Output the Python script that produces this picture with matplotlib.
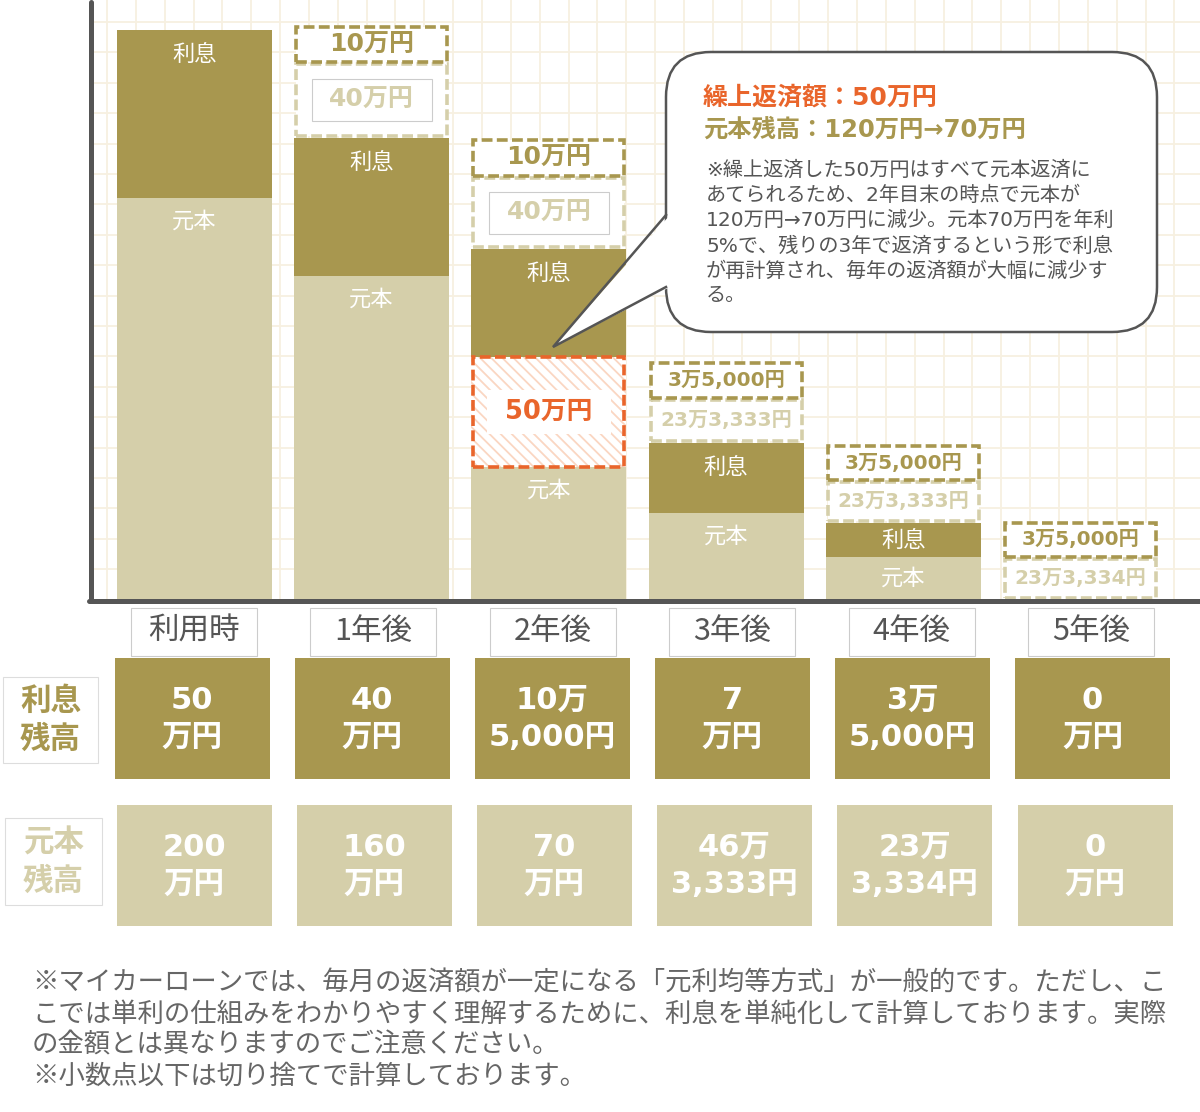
import numpy as np
import matplotlib
matplotlib.use("Agg")
import matplotlib.pyplot as plt
from matplotlib.patches import Rectangle, FancyBboxPatch, Polygon

plt.rcParams['font.family'] = ['Noto Sans CJK JP', 'DejaVu Sans']
plt.rcParams['hatch.linewidth'] = 1.3
NUM = ['DejaVu Sans', 'Noto Sans CJK JP']   # wide digits like the original

OLIVE = "#a8974f"
BEIGE = "#d5cfaa"
ORANGE = "#e9652b"
GRAY = "#555555"
GRID = "#f7f0e1"

# categories
periods = ["利用時", "1年後", "2年後", "3年後", "4年後", "5年後"]

# segment heights as drawn in the picture (not to scale in the original)
principal_h = [402, 324, 133, 87, 43, 0]
prepay_h = [0, 0, 110, 0, 0, 0]
interest_h = [168, 138, 108, 70, 34, 0]
paid_principal_h = [0, 72, 69, 41, 39, 39]
paid_interest_h = [0, 35, 36, 35, 34, 34]

paid_principal_lbl = ["", "40万円", "40万円", "23万3,333円", "23万3,333円", "23万3,334円"]
paid_interest_lbl = ["", "10万円", "10万円", "3万5,000円", "3万5,000円", "3万5,000円"]
prepay_lbl = ["", "", "50万円", "", "", ""]

interest_bal = ["50\n万円", "40\n万円", "10万\n5,000円", "7\n万円", "3万\n5,000円", "0\n万円"]
principal_bal = ["200\n万円", "160\n万円", "70\n万円", "46万\n3,333円", "23万\n3,334円", "0\n万円"]

callout_head = ["繰上返済額：50万円", "元本残高：120万円→70万円"]
callout_body = [
    "※繰上返済した50万円はすべて元本返済に",
    "あてられるため、2年目末の時点で元本が",
    "120万円→70万円に減少。元本70万円を年利",
    "5%で、残りの3年で返済するという形で利息",
    "が再計算され、毎年の返済額が大幅に減少す",
    "る。",
]
footnote = [
    "※マイカーローンでは、毎月の返済額が一定になる「元利均等方式」が一般的です。ただし、こ",
    "こでは単利の仕組みをわかりやすく理解するために、利息を単純化して計算しております。実際",
    "の金額とは異なりますのでご注意ください。",
    "※小数点以下は切り捨てで計算しております。",
]

W, H = 1200, 1112
fig = plt.figure(figsize=(W / 100, H / 100), dpi=100)

# background: grid paper
bg = fig.add_axes([0, 0, 1, 1])
bg.set_xlim(0, W)
bg.set_ylim(H, 0)
bg.axis("off")
for gx in np.arange(107, W, 28.85):
    bg.plot([gx, gx], [0, 600], color=GRID, lw=1.3)
for gy in np.arange(22, 600, 30.4):
    bg.plot([91, W], [gy, gy], color=GRID, lw=1.3)

# bar chart
ax = fig.add_axes([91 / W, (H - 600) / H, (W - 91) / W, 600 / H])
ax.set_xlim(91, W)
ax.set_ylim(0, 600)
ax.axis("off")
ax.patch.set_alpha(0)

x = 194.5 + 177.2 * np.arange(len(periods))
bw = 155
segs = [np.array(s, float) for s in
        (principal_h, prepay_h, interest_h, paid_principal_h, paid_interest_h)]
gaps = [0, 0, 0, 2, 2]
bottoms = []
cur = np.zeros(len(periods))
for s, g in zip(segs, gaps):
    start = cur + g
    bottoms.append(start)
    cur = np.where(s > 0, start + s, cur)

pr, pp, it, ppr, pit = segs
b_pr, b_pp, b_it, b_ppr, b_pit = bottoms
dash = (0, (3, 1.2))

ax.bar(x, pr, bw, bottom=b_pr, color=BEIGE, lw=0)
ax.bar(x, it, bw, bottom=b_it, color=OLIVE, lw=0)

m = pp > 0
ax.bar(x[m], pp[m], bw, bottom=b_pp[m], color="white", edgecolor="#fad6c2",
       hatch="\\\\\\", lw=0)
ax.bar(x[m], pp[m], bw - 4, bottom=b_pp[m], fill=False, edgecolor=ORANGE,
       linestyle=dash, lw=2.6)

m = ppr > 0
ax.bar(x[m], ppr[m], bw - 4, bottom=b_ppr[m], color="white", edgecolor=BEIGE,
       linestyle=dash, lw=2.6)
m = pit > 0
ax.bar(x[m], pit[m], bw - 4, bottom=b_pit[m], color="white", edgecolor=OLIVE,
       linestyle=dash, lw=2.6)

for i in range(len(periods)):
    if it[i] > 0:
        ax.text(x[i], b_it[i] + it[i] - min(24, it[i] / 2), "利息", color="white",
                fontsize=16, ha="center", va="center")
    if pr[i] > 0:
        ax.text(x[i], b_pr[i] + pr[i] - min(23, pr[i] / 2), "元本", color="white",
                fontsize=16, ha="center", va="center")
    if prepay_lbl[i]:
        cy = b_pp[i] + pp[i] / 2
        ax.add_patch(Rectangle((x[i] - 62, cy - 22), 124, 44, color="white", lw=0))
        ax.text(x[i], cy, prepay_lbl[i], color=ORANGE, fontsize=18.5,
                fontweight="bold", family=NUM, ha="center", va="center")
    if paid_principal_lbl[i]:
        cy = b_ppr[i] + ppr[i] / 2
        big = ppr[i] > 55
        if big:
            ax.add_patch(Rectangle((x[i] - 60, cy - 21), 120, 42, facecolor="white",
                                   edgecolor="#cccccc", lw=0.8))
        ax.text(x[i], cy, paid_principal_lbl[i], color=BEIGE,
                fontsize=18 if big else 14.5, fontweight="bold", family=NUM,
                ha="center", va="center")
    if paid_interest_lbl[i]:
        cy = b_pit[i] + pit[i] / 2
        ax.text(x[i], cy, paid_interest_lbl[i], color=OLIVE,
                fontsize=18 if len(paid_interest_lbl[i]) < 5 else 14.5,
                fontweight="bold", family=NUM, ha="center", va="center")

# foreground: axes lines, callout, table, footnote
fg = fig.add_axes([0, 0, 1, 1])
fg.set_xlim(0, W)
fg.set_ylim(H, 0)
fg.axis("off")
fg.patch.set_alpha(0)

fg.plot([91, 91], [2, 601], color=GRAY, lw=3.6, solid_capstyle="round")
fg.plot([89, W], [601, 601], color=GRAY, lw=3.6, solid_capstyle="round")

# callout balloon
fg.add_patch(FancyBboxPatch((666, 52), 491, 280,
                            boxstyle="round,pad=0,rounding_size=45",
                            facecolor="white", edgecolor=GRAY, lw=1.8))
fg.add_patch(Polygon([(670, 215), (553, 347), (670, 287)], closed=True,
                     facecolor="white", edgecolor="none"))
fg.plot([666, 553, 666], [215, 347, 287], color=GRAY, lw=1.8,
        solid_joinstyle="miter")
fg.text(703, 98, callout_head[0], color=ORANGE, fontsize=18, fontweight="bold",
        family=NUM, ha="left", va="center")
fg.text(703, 130, callout_head[1], color=OLIVE, fontsize=17.5, fontweight="bold",
        family=NUM, ha="left", va="center")
for k, line in enumerate(callout_body):
    fg.text(706, 170 + 25.2 * k, line, color=GRAY, fontsize=14.5,
            family=NUM, ha="left", va="center")

# period labels
lx = 194 + 179.4 * np.arange(len(periods))
for i, p in enumerate(periods):
    fg.add_patch(Rectangle((lx[i] - 63, 608), 126, 48, facecolor="white",
                           edgecolor="#cccccc", lw=0.8))
    fg.text(lx[i], 631, p, color=GRAY, fontsize=22, ha="center", va="center")

# row labels
for (x0, y0, w, h, lines, col) in [(3, 677, 95, 86, ["利息", "残高"], OLIVE),
                                    (5, 818, 97, 87, ["元本", "残高"], BEIGE)]:
    fg.add_patch(Rectangle((x0, y0), w, h, facecolor="white",
                           edgecolor="#dddddd", lw=0.8))
    for k, t in enumerate(lines):
        fg.text(x0 + w / 2, y0 + h / 2 + (k - 0.5) * 38, t, color=col,
                fontsize=22, fontweight="bold", ha="center", va="center")

# balance cells
ix = 192 + 180.1 * np.arange(len(periods))
px_ = 194 + 180.2 * np.arange(len(periods))
fg.bar(ix, [121] * 6, 155, bottom=658, color=OLIVE, lw=0)
fg.bar(px_, [121] * 6, 155, bottom=805, color=BEIGE, lw=0)
for i in range(len(periods)):
    for k, t in enumerate(interest_bal[i].split("\n")):
        fg.text(ix[i], 719 + (k - 0.5) * 37, t, color="white", fontsize=22,
                fontweight="bold", family=NUM, ha="center", va="center")
    for k, t in enumerate(principal_bal[i].split("\n")):
        fg.text(px_[i], 866 + (k - 0.5) * 37, t, color="white", fontsize=22,
                fontweight="bold", family=NUM, ha="center", va="center")

# footnote
for k, line in enumerate(footnote):
    fg.text(32, 983 + 31 * k, line, color="#666666", fontsize=19,
            ha="left", va="center")

fig.savefig("out.png", dpi=100)
